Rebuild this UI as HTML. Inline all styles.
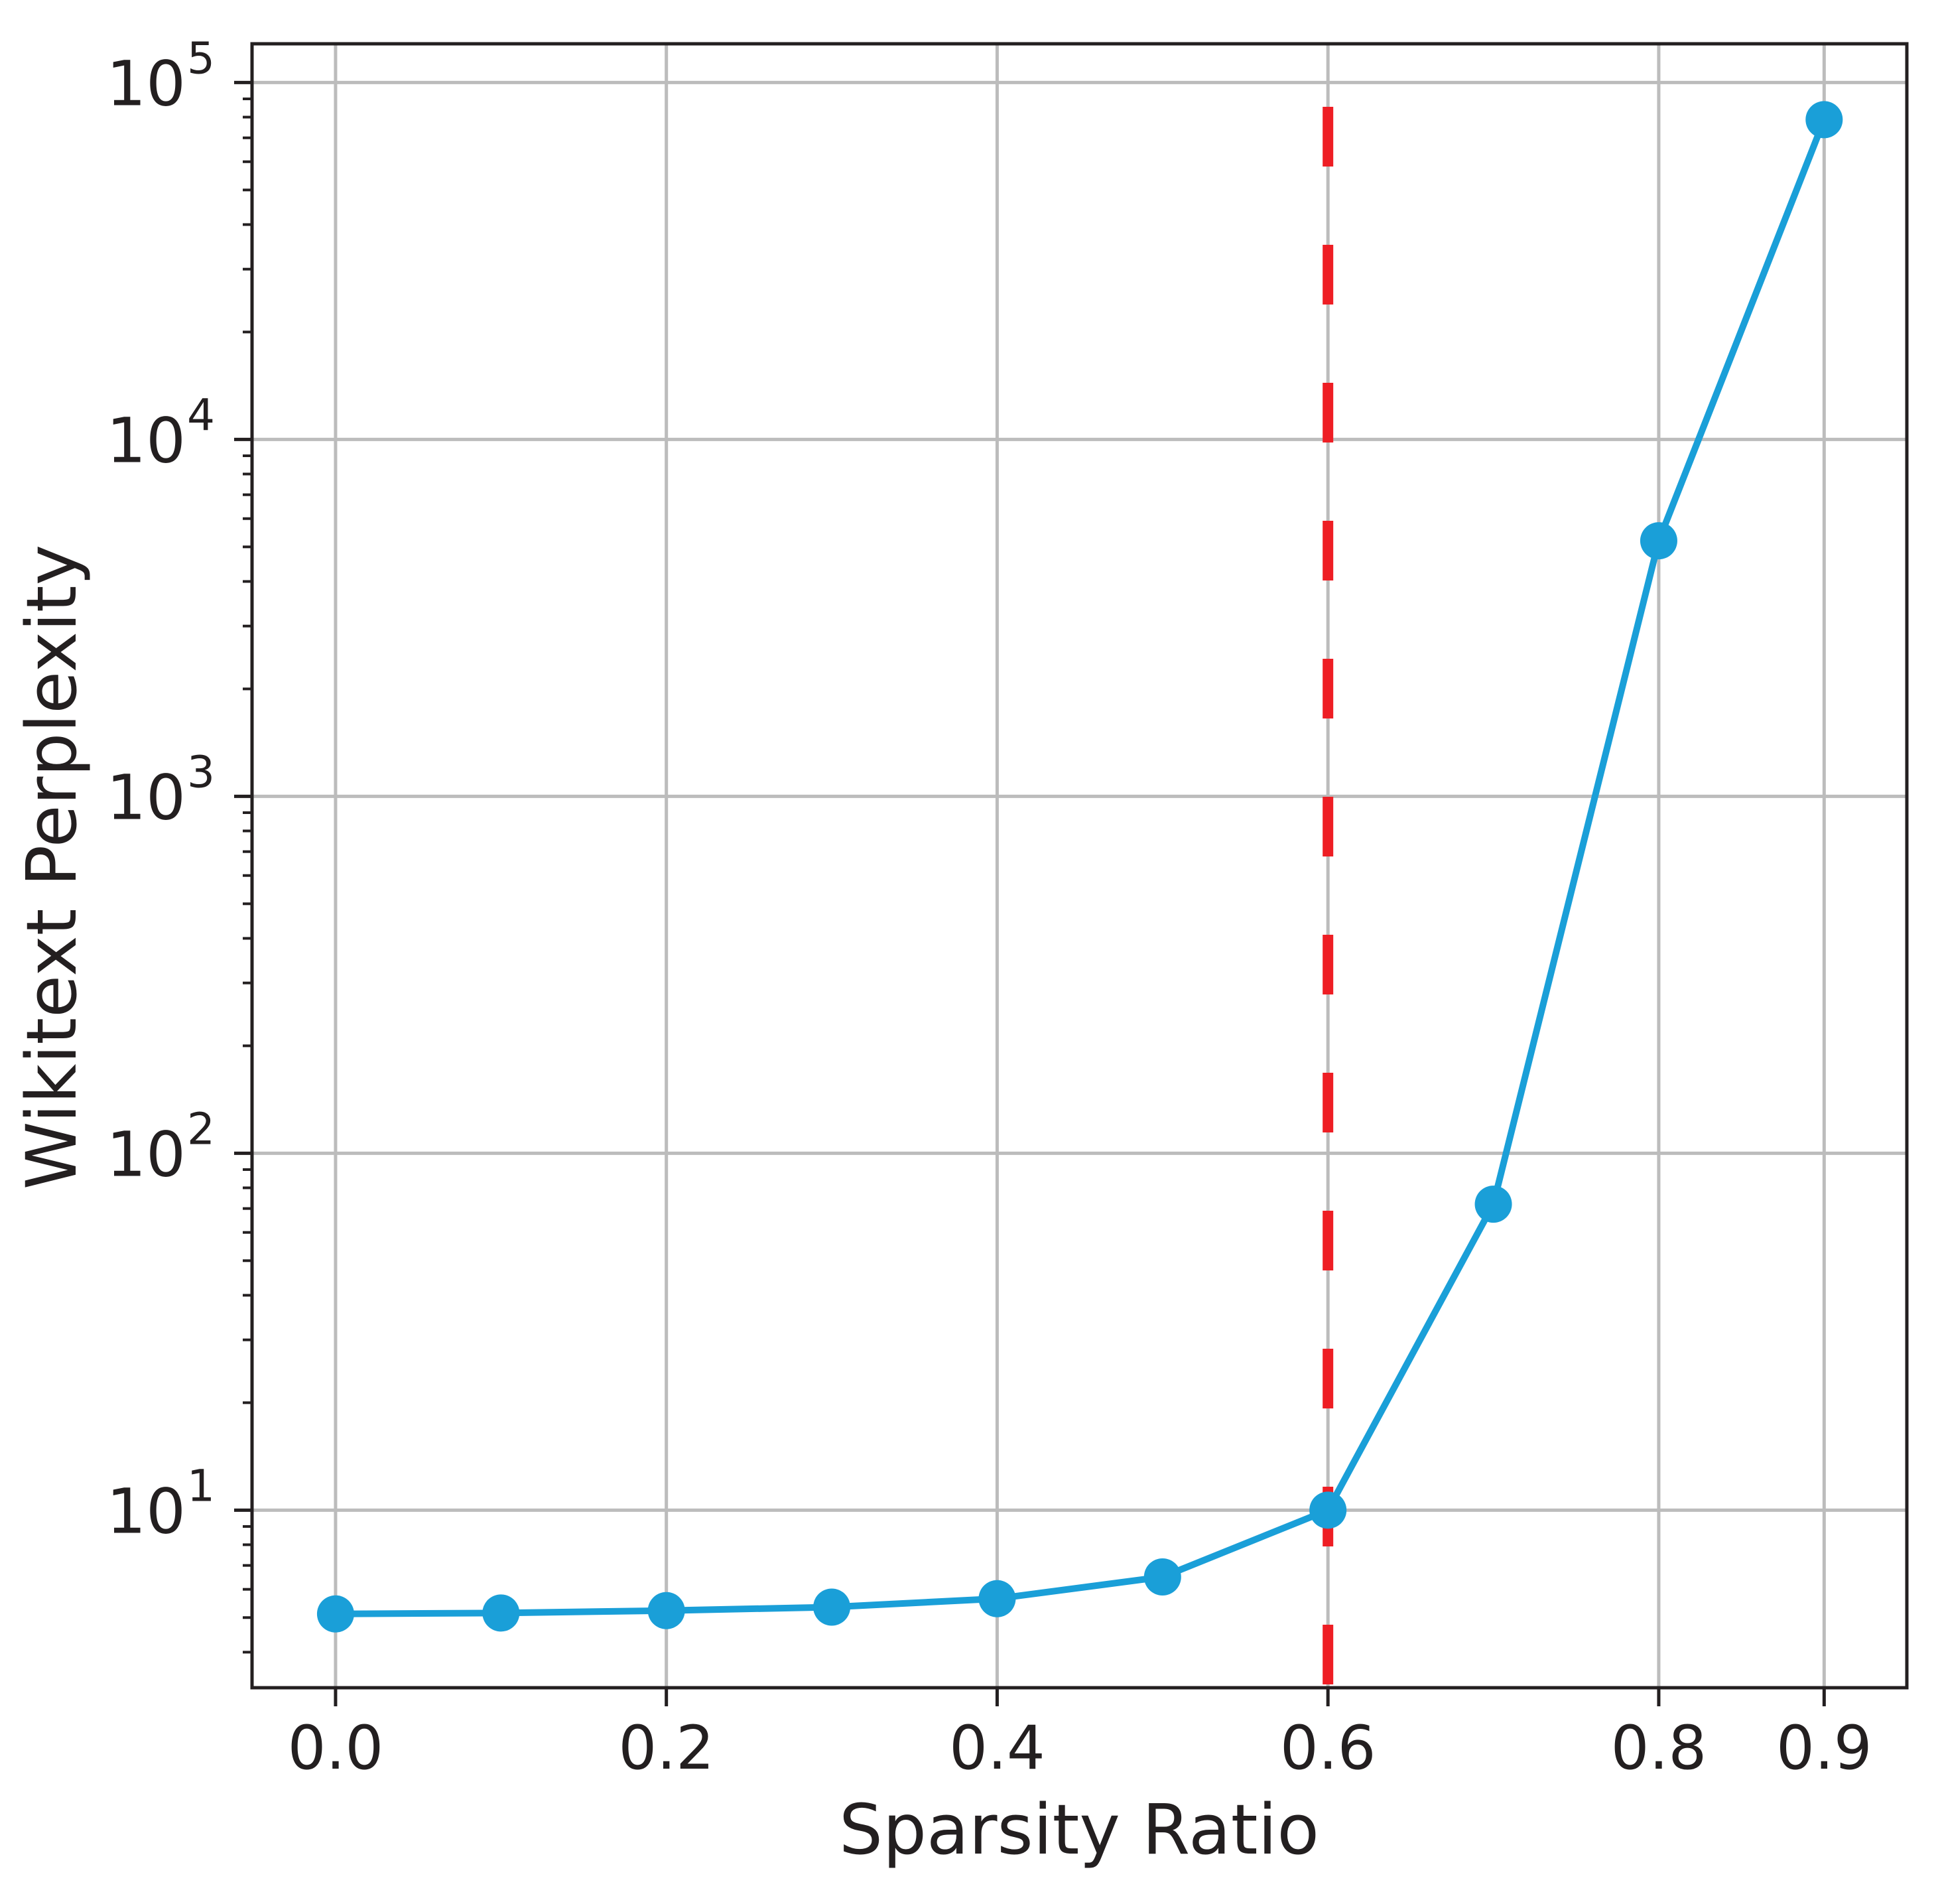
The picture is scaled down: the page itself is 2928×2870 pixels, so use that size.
<!DOCTYPE html>
<html><head><meta charset="utf-8"><style>
html,body{margin:0;padding:0;background:#fff;}
svg{display:block;}
text{font-family:"DejaVu Sans","Liberation Sans",sans-serif;fill:#231f20;}
</style></head><body>
<svg id="chart" width="2928" height="2870" viewBox="0 0 2928 2870" xmlns="http://www.w3.org/2000/svg">
<rect width="2928" height="2870" fill="#fff"/>
<g id="grid"></g>
<g id="marks"></g>
<rect x="380" y="66" width="2495" height="2478" fill="none" stroke="#231f20" stroke-width="5"/>
<g id="ticks"></g>
<text x="1627" y="2794" font-size="104" text-anchor="middle">Sparsity Ratio</text>
<text transform="translate(114,1307) rotate(-90)" font-size="104" text-anchor="middle">Wikitext Perplexity</text>
</svg>
<script>
const categories = [0.0, 0.1, 0.2, 0.3, 0.4, 0.5, 0.6, 0.7, 0.8, 0.9];
const perplexity = [5.12, 5.15, 5.23, 5.35, 5.65, 6.5, 10.0, 72, 5200, 78700];
const xTickValues = [0.0, 0.2, 0.4, 0.6, 0.8, 0.9];
const xTickLabels = ["0.0", "0.2", "0.4", "0.6", "0.8", "0.9"];
const yTickExponents = [1, 2, 3, 4, 5];
const thresholdX = [0.6];

const NS = "http://www.w3.org/2000/svg";
const L = 380, R = 2875, T = 66, B = 2544;
const xMin = -0.0505, xMax = 0.95;
const yMinLog = Math.log10(3.18), yMaxLog = Math.log10(128400);
function xs(v){ return L + (v - xMin) / (xMax - xMin) * (R - L); }
function ys(v){ return B - (Math.log10(v) - yMinLog) / (yMaxLog - yMinLog) * (B - T); }
function mk(tag, attrs, parent){
  const e = document.createElementNS(NS, tag);
  for (const k in attrs) e.setAttribute(k, attrs[k]);
  parent.appendChild(e); return e;
}
const grid = document.getElementById('grid');
const marks = document.getElementById('marks');
const ticks = document.getElementById('ticks');

xTickValues.forEach((v, i) => {
  const x = xs(v);
  const g = mk('line', {x1:x, x2:x, y1:T, y2:B, stroke:'#bcbcbc', 'stroke-width':5}, grid);
  
  
  const t = mk('line', {x1:x, x2:x, y1:B, y2:B+28, stroke:'#231f20', 'stroke-width':5}, ticks);
  
  
  const lb = mk('text', {x:x, y:2666, 'font-size':91, 'text-anchor':'middle'}, ticks);
  lb.textContent = xTickLabels[i];
  
  
});
yTickExponents.forEach(ex => {
  const y = ys(Math.pow(10, ex));
  const g = mk('line', {x1:L, x2:R, y1:y, y2:y, stroke:'#bcbcbc', 'stroke-width':5}, grid);
  
  
  const t = mk('line', {x1:L-27, x2:L, y1:y, y2:y, stroke:'#231f20', 'stroke-width':5}, ticks);
  
  
  const lb = mk('text', {x:280, y:y+34, 'font-size':94, 'text-anchor':'end'}, ticks);
  lb.textContent = '10';
  
  
  const sp = mk('text', {x:282, y:y-14, 'font-size':66}, ticks);
  sp.textContent = String(ex);
  
  
});
for (let ex = 0; ex <= 5; ex++) {
  for (let m = 2; m <= 9; m++) {
    const v = m * Math.pow(10, ex);
    const y = ys(v);
    if (y < T || y > B) continue;
    const t = mk('line', {x1:L-14, x2:L, y1:y, y2:y, stroke:'#231f20', 'stroke-width':4}, ticks);
    
    
  }
}
thresholdX.forEach(v => {
  const x = xs(v);
  const l = mk('line', {x1:x, x2:x, y1:161, y2:B, stroke:'#ee1e24', 'stroke-width':16, 'stroke-dasharray':'90 118'}, marks);
  
  
});
const pts = categories.map((c, i) => xs(c) + ',' + ys(perplexity[i])).join(' ');
const pl = mk('polyline', {points:pts, fill:'none', stroke:'#1a9fd8', 'stroke-width':10, 'stroke-linejoin':'round'}, marks);


categories.forEach((c, i) => {
  const p = mk('circle', {cx:xs(c), cy:ys(perplexity[i]), r:28, fill:'#1a9fd8'}, marks);
  
  
});
</script>
</body></html>
